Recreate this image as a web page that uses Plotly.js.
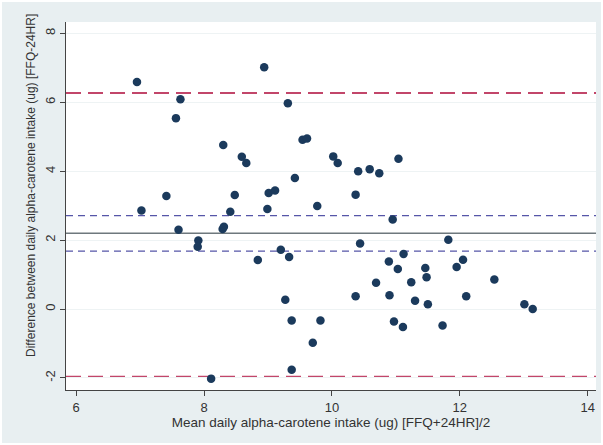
<!DOCTYPE html>
<html>
<head>
<meta charset="utf-8">
<script src="https://cdn.plot.ly/plotly-3.0.1.min.js"></script>
<style>html,body{margin:0;padding:0;background:#fff;}#chart{width:603px;height:445px;}</style>
</head>
<body>
<div id="chart"></div>
<script>
// Mean of the two methods (x) and their difference (y)
const meanIntake = [6.95, 7.02, 7.41, 7.56, 7.63, 7.60, 7.91, 7.90, 8.11, 8.30,
  8.29, 8.31, 8.41, 8.48, 8.59, 8.66, 8.84, 8.94, 8.99, 9.01,
  9.11, 9.20, 9.27, 9.31, 9.33, 9.37, 9.37, 9.42, 9.54, 9.61,
  9.70, 9.77, 9.82, 10.02, 10.09, 10.37, 10.37, 10.41, 10.44, 10.59,
  10.69, 10.74, 10.89, 10.90, 10.95, 10.97, 11.03, 11.04, 11.12, 11.11,
  11.24, 11.30, 11.46, 11.48, 11.50, 11.73, 11.82, 11.95, 12.05, 12.10,
  12.54, 13.01, 13.14];
const diffIntake = [6.59, 2.86, 3.28, 5.54, 6.09, 2.30, 1.99, 1.81, -2.02, 4.76,
  2.32, 2.39, 2.82, 3.31, 4.42, 4.24, 1.42, 7.02, 2.90, 3.37,
  3.44, 1.72, 0.27, 5.97, 1.51, -0.33, -1.76, 3.80, 4.91, 4.95,
  -0.98, 2.99, -0.33, 4.43, 4.24, 3.32, 0.37, 4.00, 1.90, 4.06,
  0.76, 3.94, 1.38, 0.40, 2.60, -0.36, 1.16, 4.36, 1.60, -0.52,
  0.78, 0.24, 1.19, 0.92, 0.14, -0.48, 2.01, 1.22, 1.43, 0.37,
  0.86, 0.14, 0.00];
// Reference lines
const meanDiff = 2.20;
const ciLimits = [2.71, 1.68];
const loaLimits = [6.27, -1.97];
const xTicks = [6, 8, 10, 12, 14];
const yTicks = [-2, 0, 2, 4, 6, 8];
const xTitle = 'Mean daily alpha-carotene intake (ug) [FFQ+24HR]/2';
const yTitle = 'Difference between daily alpha-carotene intake (ug) [FFQ-24HR]';

const shapes = [];
// thin white frame around the figure edge
shapes.push({type:'rect', xref:'paper', yref:'paper', x0:-66/530, x1:1+7/530, y0:-55/368, y1:1+22/368,
  line:{color:'#ffffff', width:4}, layer:'below'});
loaLimits.forEach(v => shapes.push({type:'line', xref:'paper', x0:0, x1:1, yref:'y', y0:v, y1:v,
  line:{color:'#c2466a', width:2.2, dash:'15px,7px'}, layer:'below'}));
ciLimits.forEach(v => shapes.push({type:'line', xref:'paper', x0:0, x1:1, yref:'y', y0:v, y1:v,
  line:{color:'#5656a8', width:1.4, dash:'7px,5px'}, layer:'below'}));
shapes.push({type:'line', xref:'paper', x0:0, x1:1, yref:'y', y0:meanDiff, y1:meanDiff,
  line:{color:'#6e787d', width:1.6}, layer:'below'});

const trace = {
  x: meanIntake, y: diffIntake, type:'scatter', mode:'markers',
  marker:{color:'#1b3a5c', size:8.5}, hoverinfo:'skip'
};

const layout = {
  width:603, height:445,
  margin:{l:66, r:7, t:22, b:55},
  paper_bgcolor:'#e8eff1', plot_bgcolor:'#ffffff',
  font:{family:'Liberation Sans, Arial, sans-serif', color:'#333', size:12.5},
  showlegend:false,
  xaxis:{range:[5.84,14.13], tickvals:xTicks, ticktext:xTicks.map(String),
    ticks:'outside', ticklen:5, tickcolor:'#444', tickwidth:1,
    showline:true, linecolor:'#444', linewidth:1.2, showgrid:false, zeroline:false,
    tickfont:{size:13},
    title:{text:xTitle, font:{size:13.5}, standoff:3}},
  yaxis:{range:[-2.35,8.33], tickvals:yTicks, ticktext:yTicks.map(String),
    ticks:'outside', ticklen:5, tickcolor:'#444', tickwidth:1, tickangle:-90,
    showline:true, linecolor:'#444', linewidth:1.2, showgrid:true, gridcolor:'#eef3f4', gridwidth:1,
    zeroline:false, tickfont:{size:13}},
  annotations:[{text:yTitle, xref:'paper', yref:'paper', x:(31-66)/530, y:(390-186)/368,
    xanchor:'center', yanchor:'middle', textangle:-90, showarrow:false, font:{size:12}}],
  shapes: shapes
};

Plotly.newPlot('chart', [trace], layout, {displayModeBar:false, staticPlot:true});
</script>
</body>
</html>
